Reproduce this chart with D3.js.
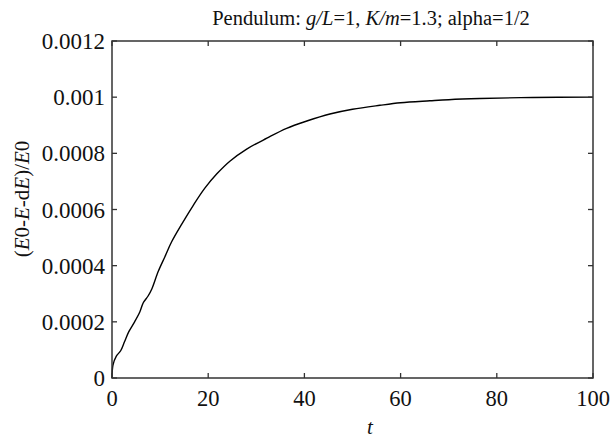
<!DOCTYPE html>
<html>
<head>
<meta charset="utf-8">
<script src="https://cdn.jsdelivr.net/npm/d3@7"></script>
</head>
<body style="margin:0">
<script>
// time values
const tValues = [0, 0.2, 0.9, 1.8, 2.6, 3.5, 4.7, 5.8, 6.5, 7.5, 8.3, 9.6, 11, 12.4, 14.5,
    16.9, 19.3, 21.8, 24.5, 28, 32.2, 36.3, 40.5, 45.3, 50, 55.7, 60, 66.1, 70, 76.5, 87.5, 100];
// relative energy loss, (E0-E-dE)/E0
const lossValues = [0, 0.000046, 0.000078, 0.000097, 0.000129, 0.000165, 0.0002, 0.000236,
    0.000268, 0.000292, 0.000318, 0.000379, 0.000432, 0.000485, 0.000548, 0.000615, 0.000676,
    0.000727, 0.000772, 0.000815, 0.000854, 0.000889, 0.000915, 0.00094, 0.000957, 0.000971,
    0.00098, 0.000987, 0.000991, 0.000995, 0.000999, 0.001];
const xTicks = [0, 20, 40, 60, 80, 100];
const yTicks = [0, 0.0002, 0.0004, 0.0006, 0.0008, 0.001, 0.0012];
const yTickLabels = ["0", "0.0002", "0.0004", "0.0006", "0.0008", "0.001", "0.0012"];

const W = 612, H = 441;
const margin = {top: 41, right: 19, bottom: 63, left: 112};
const width = W - margin.left - margin.right;
const height = H - margin.top - margin.bottom;
const serif = "Liberation Serif";

const svg = d3.select("body").append("svg")
    .attr("width", W)
    .attr("height", H);

const g = svg.append("g")
    .attr("transform", "translate(" + margin.left + "," + margin.top + ")");

const x = d3.scaleLinear().domain([0, 100]).range([0, width]);
const y = d3.scaleLinear().domain([0, 0.0012]).range([height, 0]);

const axisColor = "#333";
const tickLen = 5;

// curve
const data = tValues.map((t, i) => ({t: t, v: lossValues[i]}));
const line = d3.line()
    .x(d => x(d.t))
    .y(d => y(d.v))
    .curve(d3.curveCatmullRom.alpha(0.5));

g.append("path")
    .datum(data)
    .attr("fill", "none")
    .attr("stroke", "#000")
    .attr("stroke-width", 1.4)
    .attr("d", line);

// ticks, inward on all four sides
xTicks.forEach(t => {
    g.append("line").attr("x1", x(t)).attr("x2", x(t)).attr("y1", height).attr("y2", height - tickLen)
        .attr("stroke", axisColor).attr("stroke-width", 1.3);
    g.append("line").attr("x1", x(t)).attr("x2", x(t)).attr("y1", 0).attr("y2", tickLen)
        .attr("stroke", axisColor).attr("stroke-width", 1.3);
    g.append("text")
        .attr("x", x(t))
        .attr("y", height + 28)
        .attr("text-anchor", "middle")
        .attr("fill", "#111")
        .style("font-family", serif)
        .style("font-size", "22.5px")
        .text(t);
});

yTicks.forEach((v, i) => {
    g.append("line").attr("x1", 0).attr("x2", tickLen).attr("y1", y(v)).attr("y2", y(v))
        .attr("stroke", axisColor).attr("stroke-width", 1.3);
    g.append("line").attr("x1", width).attr("x2", width - tickLen).attr("y1", y(v)).attr("y2", y(v))
        .attr("stroke", axisColor).attr("stroke-width", 1.3);
    g.append("text")
        .attr("x", -7)
        .attr("y", y(v))
        .attr("dy", "0.35em")
        .attr("text-anchor", "end")
        .attr("fill", "#111")
        .style("font-family", serif)
        .style("font-size", "23px")
        .text(yTickLabels[i]);
});

// frame
g.append("rect")
    .attr("width", width)
    .attr("height", height)
    .attr("fill", "none")
    .attr("stroke", axisColor)
    .attr("stroke-width", 1.5);

// title
const title = svg.append("text")
    .attr("x", 371)
    .attr("y", 25)
    .attr("text-anchor", "middle")
    .attr("fill", "#111")
    .style("font-family", serif)
    .style("font-size", "20.5px");
[["Pendulum: ", false], ["g/L", true], ["=1, ", false], ["K/m", true], ["=1.3; alpha=1/2", false]]
    .forEach(p => title.append("tspan").style("font-style", p[1] ? "italic" : "normal").text(p[0]));

// x label
svg.append("text")
    .attr("x", 370)
    .attr("y", 434)
    .attr("text-anchor", "middle")
    .attr("fill", "#111")
    .style("font-family", serif)
    .style("font-size", "21px")
    .style("font-style", "italic")
    .text("t");

// y label
const ylab = svg.append("text")
    .attr("transform", "translate(29,199) rotate(-90)")
    .attr("text-anchor", "middle")
    .attr("fill", "#111")
    .style("font-family", serif)
    .style("font-size", "21px");
[["(", false], ["E", true], ["0-", false], ["E", true], ["-d", false], ["E", true], [")/", false], ["E", true], ["0", false]]
    .forEach(p => ylab.append("tspan").style("font-style", p[1] ? "italic" : "normal").text(p[0]));
</script>
</body>
</html>
